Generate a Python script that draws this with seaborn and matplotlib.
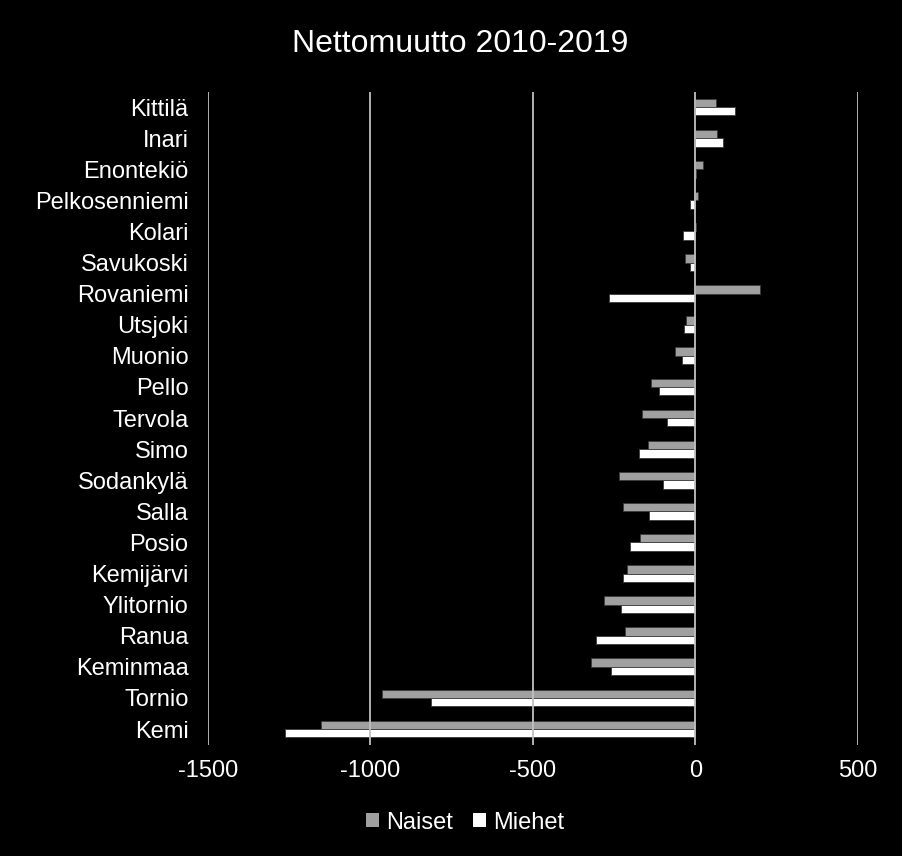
import numpy as np
import pandas as pd
import seaborn as sns
import matplotlib.pyplot as plt
from matplotlib.patches import Patch

######################################
### Data

kunnat = ['Kittilä', 'Inari', 'Enontekiö', 'Pelkosenniemi', 'Kolari', 'Savukoski',
          'Rovaniemi', 'Utsjoki', 'Muonio', 'Pello', 'Tervola', 'Simo', 'Sodankylä',
          'Salla', 'Posio', 'Kemijärvi', 'Ylitornio', 'Ranua', 'Keminmaa', 'Tornio', 'Kemi']

naiset = [62, 66, 23, 9, 3, -32, 200, -28, -63, -136, -164, -145, -235,
          -223, -170, -211, -280, -217, -320, -965, -1153]
miehet = [123, 84, 3, -16, -38, -16, -266, -36, -40, -111, -89, -175, -101,
          -142, -203, -223, -230, -305, -261, -813, -1263]

x_ticks = [-1500, -1000, -500, 0, 500]
x_labels = ['-1500', '-1000', '-500', '0', '500']

title = 'Nettomuutto 2010-2019'

#####################################
### Plot

df = pd.DataFrame({'Kunta': kunnat, 'Naiset': naiset, 'Miehet': miehet})
df1 = df.melt(id_vars='Kunta', var_name='Sukupuoli', value_name='Muutto')

sns.set_style('dark')
plt.rcParams['font.family'] = ['Liberation Sans', 'DejaVu Sans']

fig = plt.figure(figsize=(9.02, 8.56), dpi=100, facecolor='black')
ax = fig.add_axes([0.2306, 0.1301, 0.7206, 0.763])
ax.set_facecolor('black')

sns.barplot(data=df1, y='Kunta', x='Muutto', hue='Sukupuoli', order=kunnat,
            hue_order=['Naiset', 'Miehet'], palette=['#a0a0a0', '#ffffff'],
            orient='h', width=0.54, edgecolor='#3a3a3a', linewidth=0.6,
            ax=ax, legend=False)

ax.set_xlim(-1500, 500)
ax.set_xticks(x_ticks)
ax.set_xticklabels(x_labels)
ax.grid(axis='x', color='#c0c0c0', linewidth=1.3)
ax.grid(axis='y', visible=False)
ax.set_axisbelow(False)
for s in ax.spines.values():
    s.set_visible(False)

ax.tick_params(axis='both', colors='white', labelsize=17, length=0)
ax.tick_params(axis='x', pad=11)
ax.tick_params(axis='y', pad=14)
ax.set_xlabel('')
ax.set_ylabel('')

fig.text(0.51, 0.949, title, ha='center', va='center', color='white', fontsize=23)

handles = [Patch(facecolor='#a0a0a0', edgecolor='none'), Patch(facecolor='white', edgecolor='none')]
leg = fig.legend(handles, ['Naiset', 'Miehet'], loc='center', bbox_to_anchor=(0.516, 0.039),
                 ncol=2, frameon=False, fontsize=17, handlelength=0.55, handleheight=0.55,
                 handletextpad=0.3, columnspacing=0.85)
for t in leg.get_texts():
    t.set_color('white')

fig.savefig('out.png', dpi=100, facecolor='black')
